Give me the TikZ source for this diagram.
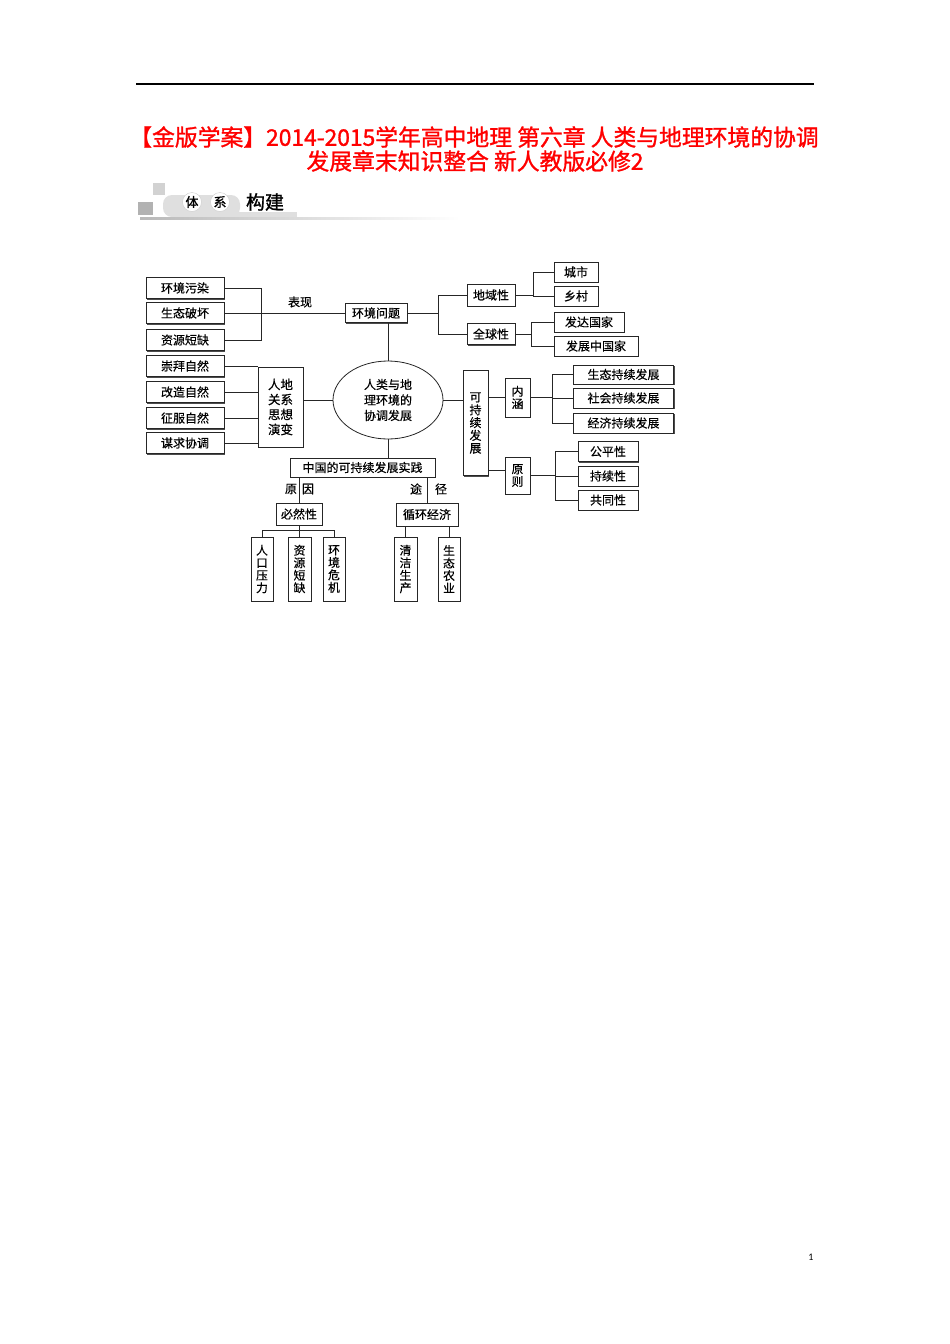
\documentclass[tikz,border=0pt]{standalone}
\usepackage{fontspec}
\newfontfamily\cjk{Noto Sans CJK SC}[FakeBold=0.5]
\newfontfamily\cjkbold{Noto Sans CJK SC}[FakeBold=1.2]
\newfontfamily\pgnum{Carlito}
\usetikzlibrary{shapes.geometric,shadows}
\newcommand\myfs[2]{\fontsize{#1}{#2}\selectfont}
\tikzset{
  bx/.style={draw=black!85, line width=0.8pt, fill=white, inner sep=0pt,
    font=\cjk\myfs{12}{14}, align=center,
    drop shadow={shadow xshift=1pt, shadow yshift=-1pt, fill=black!70, opacity=1}},
  vbx/.style={bx, font=\cjk\myfs{11.8}{12.5}},
  ln/.style={draw=black!85, line width=0.8pt},
  lbl/.style={font=\cjk\myfs{12}{14}, inner sep=0pt},
}
\begin{document}
\begin{tikzpicture}[x=1pt,y=-1pt]
\useasboundingbox (0,0) rectangle (950,1344);
\fill[white] (0,0) rectangle (950,1344);
% top rule
\coordinate (r1) at (136,84);
\coordinate (r2) at (814,84);
\draw[line width=1.2pt] (r1) -- (r2);
% title
\node[font=\cjkbold\myfs{22.8}{24}, text=red, inner sep=0pt] (t1) at (474,137) {【金版学案】2014-2015学年高中地理 第六章 人类与地理环境的协调};
\node[font=\cjkbold\myfs{22.8}{24}, text=red, inner sep=0pt] (t2) at (475,161) {发展章末知识整合 新人教版必修2};
% header graphic
\fill[gray!35] (153,183) rectangle (165,195);
\fill[gray!60] (138,202) rectangle (153,215);
\fill[gray!25, rounded corners=9pt] (163,195) rectangle (240,217);
\fill[gray!25] (200,212) rectangle (297,217);
\shade[left color=gray!55, right color=white] (140,217.5) rectangle (460,219.5);
\node[circle, fill=white, draw=gray!40, minimum size=19pt, inner sep=0pt, font=\cjkbold\myfs{13}{13}] (h1) at (192,202) {体};
\node[circle, fill=white, draw=gray!40, minimum size=19pt, inner sep=0pt, font=\cjkbold\myfs{13}{13}] (h2) at (220,202) {系};
\node[font=\cjkbold\myfs{19}{19}, inner sep=0pt] (h3) at (265,202) {构建};
% left boxes
\node[bx, minimum width=78pt, minimum height=21pt] (wr) at (185,288) {环境污染};
\node[bx, minimum width=78pt, minimum height=21pt] (st) at (185,313) {生态破坏};
\node[bx, minimum width=78pt, minimum height=21pt] (zy) at (185,340) {资源短缺};
\node[bx, minimum width=78pt, minimum height=21pt] (cb) at (185,366) {崇拜自然};
\node[bx, minimum width=78pt, minimum height=21pt] (gz) at (185,392) {改造自然};
\node[bx, minimum width=78pt, minimum height=21pt] (zf) at (185,418) {征服自然};
\node[bx, minimum width=78pt, minimum height=21pt] (mq) at (185,443) {谋求协调};
% center
\node[bx, minimum width=62pt, minimum height=19pt] (hjwt) at (376,313) {环境问题};
\node[lbl] (bx1) at (300,302) {表现};
\node[bx, minimum width=45pt, minimum height=80pt, font=\cjk\myfs{12.5}{15}] (rd) at (280.5,407) {人地\\关系\\思想\\演变};
\node[draw=black!85, line width=0.8pt, ellipse, fill=white, minimum width=110pt, minimum height=78pt, inner sep=0pt, align=center, font=\cjk\myfs{12}{15.5}] (ell) at (388,400) {人类与地\\理环境的\\协调发展};
\node[vbx, minimum width=25pt, minimum height=105pt, font=\cjk\myfs{12}{12.8}] (kcx) at (475.5,423) {可\\持\\续\\发\\展};
% upper right
\node[bx, minimum width=48pt, minimum height=22pt] (dyx) at (491,295) {地域性};
\node[bx, minimum width=48pt, minimum height=21pt] (qqx) at (491,334) {全球性};
\node[bx, minimum width=44pt, minimum height=20pt] (cs) at (576,272) {城市};
\node[bx, minimum width=44pt, minimum height=20pt] (xc) at (576,296) {乡村};
\node[bx, minimum width=70pt, minimum height=20pt] (fd) at (589,322) {发达国家};
\node[bx, minimum width=84pt, minimum height=20pt] (fz) at (596,346) {发展中国家};
% right
\node[vbx, minimum width=25pt, minimum height=39pt] (nh) at (517.5,397.5) {内\\涵};
\node[vbx, minimum width=25pt, minimum height=37pt] (yz) at (517.5,475.5) {原\\则};
\node[bx, minimum width=100pt, minimum height=19pt] (st2) at (623.5,374.5) {生态持续发展};
\node[bx, minimum width=100pt, minimum height=20pt] (sh) at (623.5,398) {社会持续发展};
\node[bx, minimum width=100pt, minimum height=20pt] (jj) at (623.5,423) {经济持续发展};
\node[bx, minimum width=60pt, minimum height=20pt] (gp) at (608,451.5) {公平性};
\node[bx, minimum width=60pt, minimum height=20pt] (cx) at (608,476) {持续性};
\node[bx, minimum width=60pt, minimum height=20pt] (gt) at (608,500) {共同性};
% bottom
\node[bx, minimum width=145pt, minimum height=19pt] (zg) at (362.5,467.5) {中国的可持续发展实践};
\node[bx, minimum width=46pt, minimum height=22pt] (brx) at (299,514) {必然性};
\node[bx, minimum width=62pt, minimum height=23pt] (xh) at (427,514.5) {循环经济};
\node[lbl] (ly1) at (291,489) {原};
\node[lbl] (ly2) at (308,489) {因};
\node[lbl] (lt1) at (416,489) {途};
\node[lbl] (lt2) at (441,489) {径};
\node[vbx, minimum width=22pt, minimum height=64pt] (rk) at (262,569) {人\\口\\压\\力};
\node[vbx, minimum width=23pt, minimum height=64pt] (zy2) at (299.5,569) {资\\源\\短\\缺};
\node[vbx, minimum width=22pt, minimum height=64pt] (hj) at (334,569) {环\\境\\危\\机};
\node[vbx, minimum width=23pt, minimum height=64pt] (qj) at (405.5,569) {清\\洁\\生\\产};
\node[vbx, minimum width=22pt, minimum height=64pt] (sn) at (449,569) {生\\态\\农\\业};
% connectors left
\draw[ln] (wr.east) -- ++(37,0) |- (zy.east);
\draw[ln] (st.east) -- (hjwt.west);
\draw[ln] (hjwt.south -| ell.north) -- (ell.north);
\draw[ln] (cb.east) -- (cb.east -| rd.west);
\draw[ln] (gz.east) -- (gz.east -| rd.west);
\draw[ln] (zf.east) -- (zf.east -| rd.west);
\draw[ln] (mq.east) -- (mq.east -| rd.west);
\draw[ln] (ell.west) -- (ell.west -| rd.east);
\draw[ln] (ell.east) -- (ell.east -| kcx.west);
\draw[ln] (ell.south) -- (ell.south |- zg.north);
% connectors upper right
\draw[ln] (hjwt.east) -- ++(31,0) coordinate (jA);
\draw[ln] (dyx.west) -| (jA) |- (qqx.west);
\draw[ln] (dyx.east) -- ++(18,0) coordinate (jB);
\draw[ln] (cs.west) -| (jB) |- (xc.west);
\draw[ln] (qqx.east) -- ++(16,0) coordinate (jC);
\draw[ln] (fd.west) -| (jC) |- (fz.west);
% connectors right
\draw[ln] (nh.west) -- (nh.west -| kcx.east);
\coordinate (yzin) at ([yshift=5pt]yz.west);
\draw[ln] (yzin) -- (yzin -| kcx.east);
\draw[ln] (nh.east) -- ++(22,0) coordinate (jD);
\draw[ln] (st2.west) -| (jD) |- (jj.west);
\draw[ln] (sh.west) -- (sh.west -| jD);
\draw[ln] (yz.east) -- ++(25,0) coordinate (jE);
\draw[ln] (gp.west) -| (jE) |- (gt.west);
\draw[ln] (cx.west) -- (cx.west -| jE);
% connectors bottom
\draw[ln] (brx.north) -- (brx.north |- zg.south);
\draw[ln] (xh.north) -- (xh.north |- zg.south);
\coordinate (jF) at ([yshift=-5pt]brx.south);
\draw[ln] (brx.south) -- (jF);
\draw[ln] (rk.north) |- (jF) -| (hj.north);
\draw[ln] (zy2.north) -- (zy2.north |- jF);
\draw[ln] (qj.north) -- (qj.north |- xh.south);
\draw[ln] (sn.north) -- (sn.north |- xh.south);
% page number
\node[font=\pgnum\myfs{10}{12}, inner sep=0pt] (pn) at (811,1257) {1};
\end{tikzpicture}
\end{document}
